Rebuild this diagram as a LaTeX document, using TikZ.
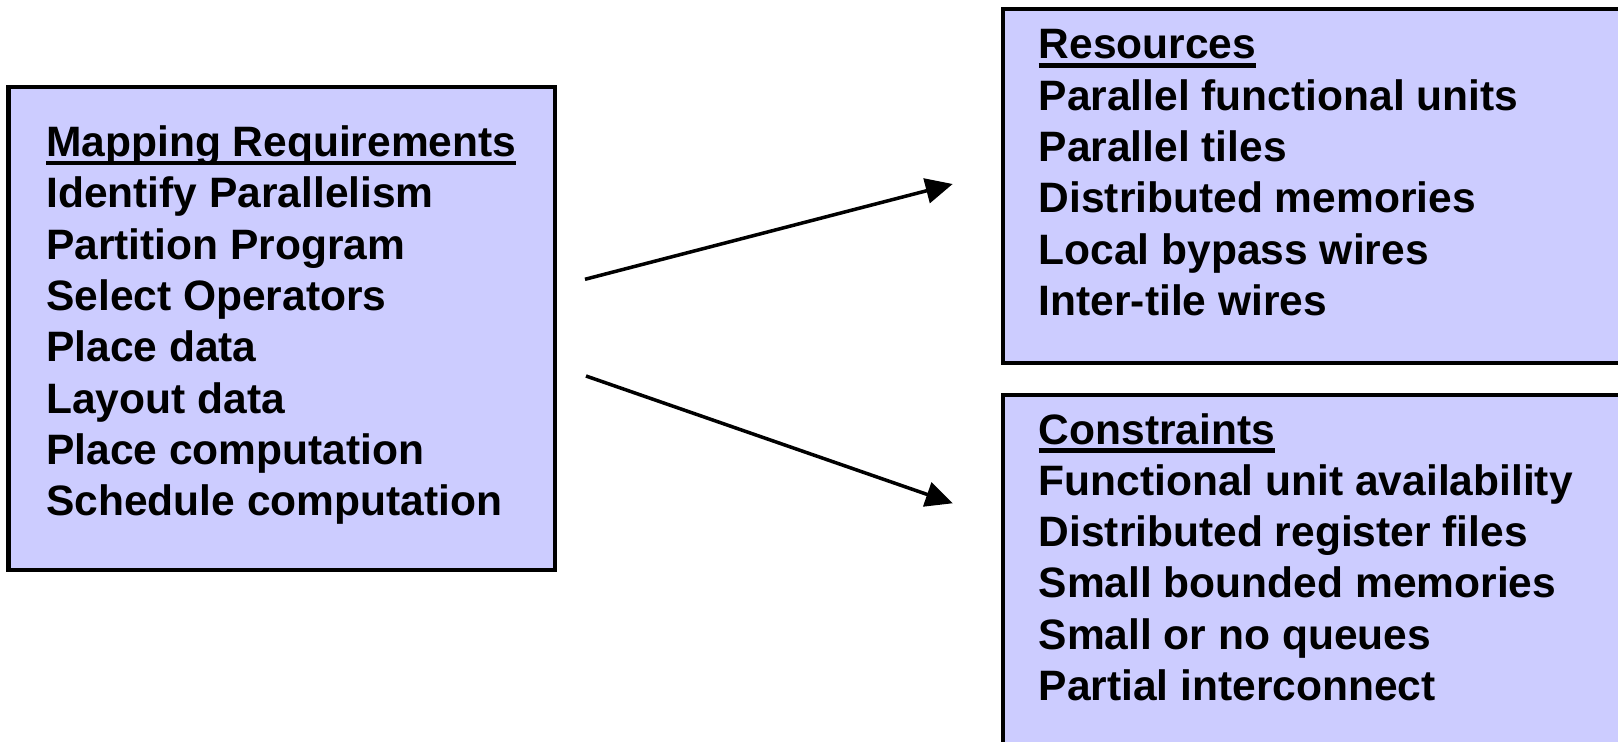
\documentclass[tikz,border=0pt]{standalone}
\usepackage{fontspec}
\setmainfont{Liberation Sans}
\usetikzlibrary{arrows.meta}
\definecolor{boxfill}{RGB}{204,204,255}
\newcommand{\ulhead}[1]{\setbox0\hbox{#1}\rlap{\rule[-2.5pt]{\wd0}{1.25pt}}\box0}
\begin{document}
\begin{tikzpicture}[
		box/.style={draw, line width=1.15pt, fill=boxfill, inner sep=0pt},
		list/.style={align=left, inner sep=0pt, anchor=north west, font=\fontsize{12.1}{14.6}\selectfont\bfseries},
		link/.style={-{Triangle[length=2.7mm, width=2.5mm]}, line width=1pt}
	]
		\useasboundingbox (0, 0) rectangle (16.18, 7.41);
		
		\draw node[box, minimum width=5.465cm, minimum height=4.83cm] at (2.8175, 4.125) (req) {};
		\draw node[box, anchor=north west, minimum width=6.8cm, minimum height=3.54cm] at (10.01, 7.34) (res) {};
		\draw node[box, anchor=north west, minimum width=6.8cm, minimum height=3.9cm] at (10.01, 3.48) (con) {};
		
		\draw node[list] at (0.455, 6.16) (reqlist) {\ulhead{Mapping Requirements}\\ Identify Parallelism\\ Partition Program\\ Select Operators\\ Place data\\ Layout data\\ Place computation\\ Schedule computation};
		\draw node[list] at (10.38, 7.12) (reslist) {\ulhead{Resources}\\ Parallel functional units\\ Parallel tiles\\ Distributed memories\\ Local bypass wires\\ Inter-tile wires};
		\draw node[list] at (10.38, 3.285) (conlist) {\ulhead{Constraints}\\ Functional unit availability\\ Distributed register files\\ Small bounded memories\\ Small or no queues\\ Partial interconnect};
		
		\coordinate (requp) at (5.85, 4.617);
		\coordinate (reqdown) at (5.86, 3.65);
		\coordinate (resin) at (9.527, 5.57);
		\coordinate (conin) at (9.527, 2.377);
		
		\draw [link]   (requp) -- (resin);
		\draw [link]   (reqdown) -- (conin);
	\end{tikzpicture}
\end{document}
